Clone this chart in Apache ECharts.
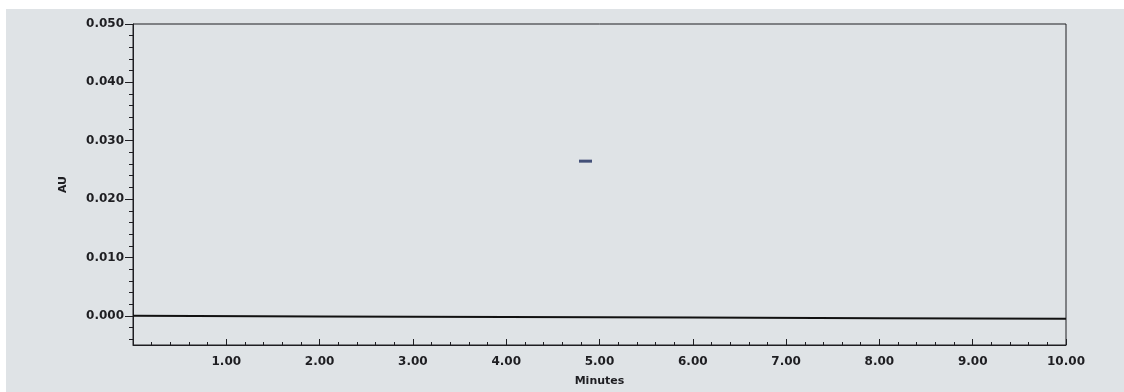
<!DOCTYPE html>
<html>
<head>
<meta charset="utf-8">
<script src="https://cdn.jsdelivr.net/npm/echarts@6/dist/echarts.min.js"></script>
<style>
  html, body { margin: 0; padding: 0; background: #ffffff; }
  #chart { width: 1124px; height: 392px; }
</style>
</head>
<body>
<div id="chart"></div>
<script>
// baseline trace (minutes, AU)
const baseTime = [0, 2, 4, 6, 8, 10];
const baseAU = [0.0000, -0.0001, -0.0002, -0.0003, -0.0004, -0.0005];

// small speck near 4.85 min
const speckTime = [4.85];
const speckAU = [0.0265];

const yMajor = [0, 0.01, 0.02, 0.03, 0.04, 0.05];
const yMinor = [-0.004, -0.002, 0.002, 0.004, 0.006, 0.008, 0.012, 0.014, 0.016, 0.018,
    0.022, 0.024, 0.026, 0.028, 0.032, 0.034, 0.036, 0.038, 0.042, 0.044, 0.046, 0.048];

const paper = '#dfe3e6';
const ink = '#1e1e22';
const labelFont = { fontFamily: 'DejaVu Sans', fontWeight: 'bold', fontSize: 12, color: ink };

var dom = document.getElementById('chart');
var myChart = echarts.init(dom, null, { renderer: 'canvas' });

const option = {
    animation: false,
    graphic: [{
        type: 'rect',
        z: -10,
        silent: true,
        shape: { x: 6, y: 9, width: 1118, height: 383 },
        style: { fill: paper }
    }],
    grid: {
        left: 133,
        right: 58,
        top: 24,
        bottom: 38,
        show: true,
        borderColor: ink,
        borderWidth: 1
    },
    xAxis: {
        type: 'value',
        min: 0,
        max: 10,
        interval: 1,
        name: 'Minutes',
        nameLocation: 'middle',
        nameGap: 31,
        nameTextStyle: { fontFamily: 'DejaVu Sans', fontWeight: 'bold', fontSize: 11, color: ink },
        axisLine: { onZero: false, lineStyle: { color: ink, width: 1 } },
        axisTick: { inside: true, length: 6, lineStyle: { color: ink } },
        minorTick: { show: true, splitNumber: 5, length: 3, lineStyle: { color: ink } },
        splitLine: { show: false },
        axisLabel: Object.assign({}, labelFont, {
            margin: 11,
            formatter: v => v === 0 ? '' : v.toFixed(2)
        })
    },
    yAxis: [{
        type: 'value',
        min: -0.005,
        max: 0.05,
        name: 'AU',
        nameLocation: 'middle',
        nameGap: 64,
        nameTextStyle: { fontFamily: 'DejaVu Sans', fontWeight: 'bold', fontSize: 11, color: ink },
        axisLine: { show: true, onZero: false, lineStyle: { color: ink, width: 1 } },
        axisTick: { show: true, length: 8, customValues: yMajor, lineStyle: { color: ink } },
        splitLine: { show: false },
        axisLabel: Object.assign({}, labelFont, {
            margin: 9,
            customValues: yMajor,
            formatter: v => v.toFixed(3)
        })
    }, {
        // second copy of the left axis only for the small ticks
        type: 'value',
        position: 'left',
        min: -0.005,
        max: 0.05,
        axisLine: { show: false, onZero: false },
        axisTick: { show: true, length: 4, customValues: yMinor, lineStyle: { color: ink } },
        axisLabel: { show: false },
        splitLine: { show: false }
    }],
    series: [
        {
            type: 'line',
            data: baseTime.map((t, i) => [t, baseAU[i]]),
            showSymbol: false,
            lineStyle: { color: '#111111', width: 2 }
        },
        {
            type: 'scatter',
            data: speckTime.map((t, i) => [t, speckAU[i]]),
            symbol: 'rect',
            symbolSize: [13, 3],
            itemStyle: { color: '#1c2a5c' }
        }
    ]
};

myChart.setOption(option);
window.addEventListener('resize', myChart.resize);
</script>
</body>
</html>
